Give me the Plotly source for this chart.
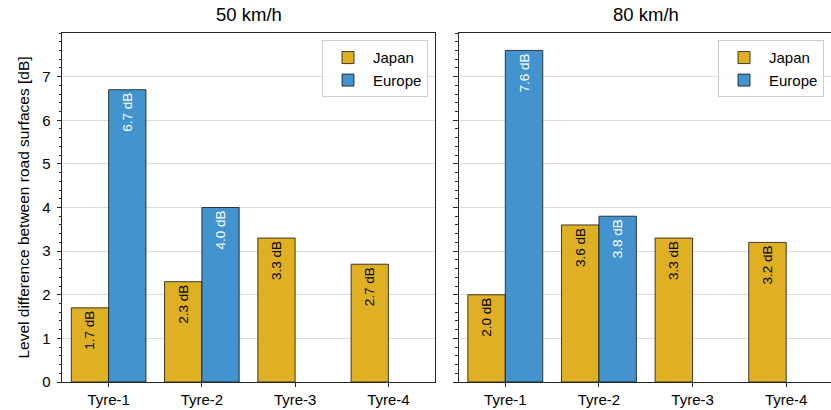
import plotly.graph_objects as go

tyres = ["Tyre-1", "Tyre-2", "Tyre-3", "Tyre-4"]
japan_50 = [1.7, 2.3, 3.3, 2.7]
europe_50 = [6.7, 4.0, None, None]
japan_80 = [2.0, 3.6, 3.3, 3.2]
europe_80 = [7.6, 3.8, None, None]
panel_titles = ["50 km/h", "80 km/h"]
y_ticks = [0, 1, 2, 3, 4, 5, 6, 7]
y_title = "Level difference between road surfaces [dB]"

JAPAN = "#DFB024"
EUROPE = "#4393CF"
SPINE = "#262626"
FONT = "Liberation Sans, Arial, sans-serif"

W = 833  # slightly wider than the window: the right spine falls just outside, as in the reference
L = 62
PW = W - L

fig = go.Figure()

def add_pair(jv, ev, xa, ya, leg):
    fig.add_trace(go.Bar(
        x=tyres, y=jv, name="Japan", xaxis=xa, yaxis=ya, legend=leg,
        marker=dict(color=JAPAN, line=dict(color="#111111", width=0.8)),
        texttemplate="%{y:.1f} dB", textposition="inside", insidetextanchor="end",
        textangle=-90, textfont=dict(color="black", size=13.5, family=FONT),
        constraintext="none", hoverinfo="skip"))
    fig.add_trace(go.Bar(
        x=tyres, y=ev, name="Europe", xaxis=xa, yaxis=ya, legend=leg,
        marker=dict(color=EUROPE, line=dict(color="#111111", width=0.8)),
        texttemplate="%{y:.1f} dB", textposition="inside", insidetextanchor="end",
        textangle=-90, textfont=dict(color="white", size=13.5, family=FONT),
        constraintext="none", hoverinfo="skip"))

add_pair(japan_50, europe_50, "x", "y", "legend")
add_pair(japan_80, europe_80, "x2", "y2", "legend2")

d1 = [0.0, 373 / PW]
d2 = [(458.5 - L) / PW, 1.0]

common_x = dict(type="category", categoryorder="array", categoryarray=tyres,
                showline=True, linecolor=SPINE, linewidth=1, ticks="outside",
                ticklen=4, tickcolor=SPINE, showgrid=False, zeroline=False,
                range=[-0.5, 3.5], mirror=True,
                tickfont=dict(size=15, color="black", family=FONT))
common_y = dict(range=[0, 8], tickmode="array", tickvals=y_ticks,
                showline=True, linecolor=SPINE, linewidth=1, mirror=True,
                ticks="outside", ticklen=4.5, tickcolor=SPINE, ticklabelstandoff=3,
                showgrid=True, gridcolor="#dcdcdc", gridwidth=1, zeroline=False,
                minor=dict(dtick=0.2, ticks="outside", ticklen=2.5, tickcolor=SPINE,
                           showgrid=False),
                tickfont=dict(size=15, color="black", family=FONT))

legend_common = dict(xanchor="right", y=0.979, yanchor="top", itemwidth=40,
                     bgcolor="rgba(255,255,255,0.85)", bordercolor="#cccccc", borderwidth=1,
                     font=dict(size=15, family=FONT), tracegroupgap=0)

fig.update_layout(
    width=W, height=410,
    margin=dict(l=L, r=0, t=33, b=28),
    paper_bgcolor="white", plot_bgcolor="white",
    barmode="group", bargap=0.2, bargroupgap=0.0,
    font=dict(family=FONT, size=15, color="black"),
    xaxis=dict(common_x, domain=d1, anchor="y"),
    yaxis=dict(common_y, domain=[0, 1], anchor="x",
               title=dict(text=y_title, font=dict(size=15.5, family=FONT), standoff=8)),
    xaxis2=dict(common_x, domain=d2, anchor="y2"),
    yaxis2=dict(common_y, domain=[0, 1], anchor="x2", showticklabels=False),
    legend=dict(legend_common, x=(428 - L) / PW),
    legend2=dict(legend_common, x=(824 - L) / PW),
    showlegend=True,
)

for t, dom in zip(panel_titles, [d1, d2]):
    fig.add_annotation(text=t, xref="paper", yref="paper", xanchor="center",
                       x=(dom[0] + dom[1]) / 2, y=1, yshift=6, yanchor="bottom",
                       showarrow=False, font=dict(size=18.5, family=FONT, color="black"))

fig.write_html("out.html", config={"displayModeBar": False},
               post_script="document.body.style.margin='0';document.body.style.overflow='hidden';")
